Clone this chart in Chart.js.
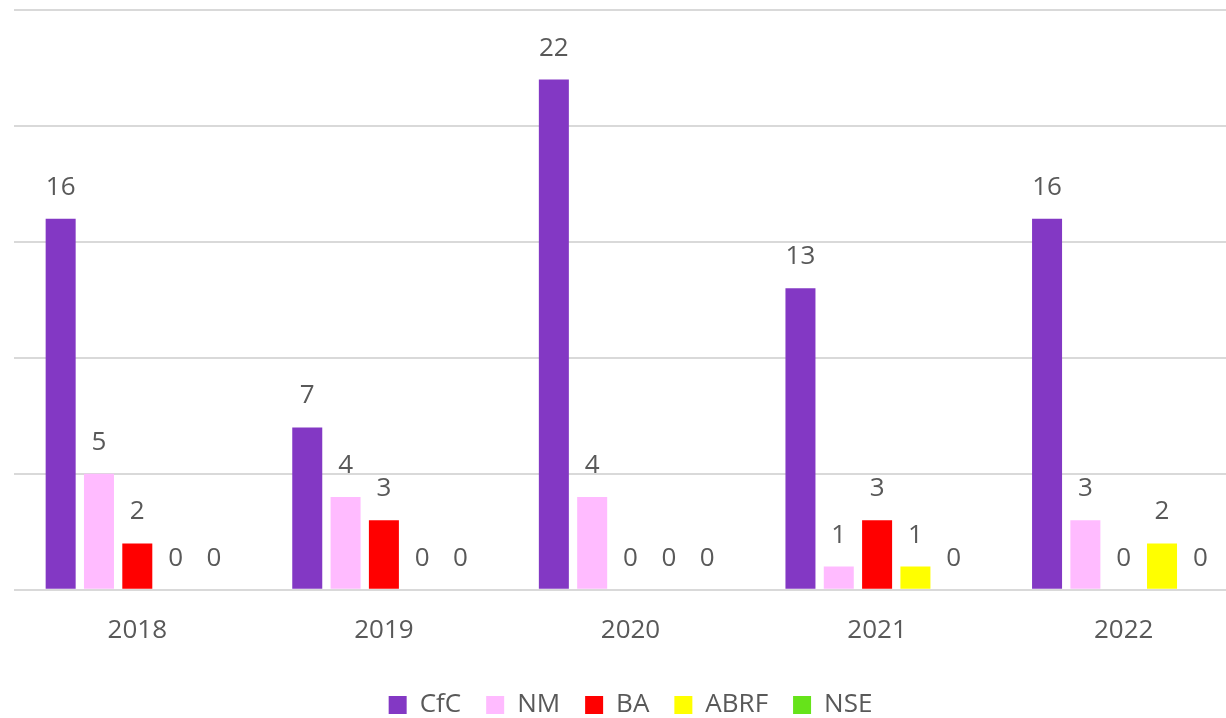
<!DOCTYPE html>
<html>
<head>
<meta charset="utf-8">
<script src="https://cdn.jsdelivr.net/npm/chart.js@4"></script>
<style>
	html, body { margin: 0; padding: 0; background: #fff; overflow: hidden; }
	/* the original plot runs a bit past the right edge */
	#wrap { width: 1247px; height: 718px; }
</style>
</head>
<body>
<div id="wrap"><canvas id="chart"></canvas></div>
<script>
const years = ['2018', '2019', '2020', '2021', '2022'];
const cfc = [16, 7, 22, 13, 16];
const nm = [5, 4, 4, 1, 3];
const ba = [2, 3, 0, 3, 0];
const abrf = [0, 0, 0, 1, 2];
const nse = [0, 0, 0, 0, 0];

const textColor = '#595959';
const fontFamily = '"Open Sans", Lato, sans-serif';

// draws the value above every bar, zeros included
const valueLabels = {
	id: 'valueLabels',
	afterDatasetsDraw(chart) {
		const ctx = chart.ctx;
		ctx.save();
		ctx.font = '26px ' + fontFamily;
		ctx.fillStyle = textColor;
		ctx.textAlign = 'center';
		ctx.textBaseline = 'alphabetic';
		chart.data.datasets.forEach((ds, i) => {
			const meta = chart.getDatasetMeta(i);
			if (meta.hidden) return;
			meta.data.forEach((bar, j) => {
				ctx.fillText(ds.data[j], bar.x, bar.y - 24);
			});
		});
		ctx.restore();
	}
};

function series(label, data, color) {
	return {
		label: label,
		data: data,
		backgroundColor: color,
		borderWidth: 0,
		categoryPercentage: 0.777,
		barPercentage: 0.783
	};
}

new Chart(document.querySelector('#chart'), {
	type: 'bar',
	data: {
		labels: years,
		datasets: [
			series('CfC', cfc, '#8338C4'),
			series('NM', nm, '#FFBBFF'),
			series('BA', ba, '#FF0000'),
			series('ABRF', abrf, '#FFFF00'),
			series('NSE', nse, '#66E31A')
		]
	},
	options: {
		animation: false,
		responsive: true,
		maintainAspectRatio: false,
		layout: {
			padding: { left: 14, right: 0, top: 10, bottom: -10 }
		},
		plugins: {
			legend: {
				position: 'bottom',
				labels: {
					boxWidth: 18,
					boxHeight: 18,
					padding: 25,
					color: textColor,
					font: { size: 26, family: fontFamily }
				}
			},
			tooltip: { enabled: false }
		},
		scales: {
			x: {
				grid: { display: false },
				border: { display: false },
				afterFit(scale) {
					scale.height += 4;
				},
				ticks: {
					color: textColor,
					padding: 17,
					font: { size: 26, family: fontFamily }
				}
			},
			y: {
				min: 0,
				max: 25,
				ticks: { display: false, stepSize: 5 },
				border: { display: false },
				grid: { color: '#d9d9d9', lineWidth: 2, drawTicks: false }
			}
		}
	},
	plugins: [valueLabels]
});
</script>
</body>
</html>
